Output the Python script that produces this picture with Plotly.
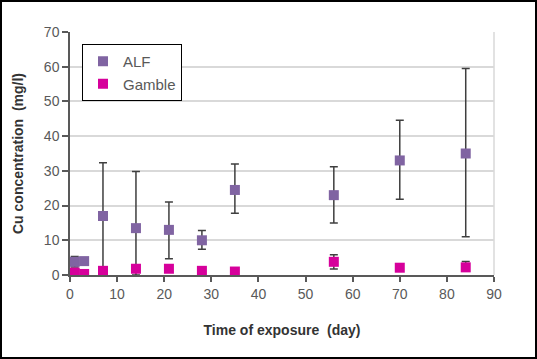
import plotly.graph_objects as go

days_alf = [1, 3, 7, 14, 21, 28, 35, 56, 70, 84]
alf = [3.8, 4.0, 17.0, 13.5, 13.0, 10.0, 24.5, 23.0, 33.0, 35.0]
alf_plus = [1.5, 0.5, 15.3, 16.3, 8.0, 2.8, 7.5, 8.2, 11.6, 24.5]
alf_minus = [1.5, 0.5, 17.0, 13.5, 8.3, 2.6, 6.7, 8.0, 11.2, 24.0]

days_gam = [1, 3, 7, 14, 21, 28, 35, 56, 70, 84]
gamble = [0.7, 0.3, 1.2, 1.8, 1.8, 1.2, 1.0, 3.8, 2.1, 2.2]
gam_plus = [0.2, 0.2, 0.2, 0.2, 0.2, 0.2, 0.2, 2.0, 0.2, 1.7]
gam_minus = [0.2, 0.2, 0.2, 0.2, 0.2, 0.2, 0.2, 2.1, 0.2, 0.2]

ALF_COLOR = "#8064A2"
GAM_COLOR = "#D6009B"
ERR_COLOR = "#3F3F3F"

fig = go.Figure()
fig.add_trace(go.Scatter(
    x=days_alf, y=alf, mode="markers", name="ALF",
    marker=dict(symbol="square", size=10, color=ALF_COLOR),
    error_y=dict(type="data", symmetric=False, array=alf_plus, arrayminus=alf_minus,
                 color=ERR_COLOR, thickness=1.5, width=4),
))
fig.add_trace(go.Scatter(
    x=days_gam, y=gamble, mode="markers", name="Gamble",
    marker=dict(symbol="square", size=10, color=GAM_COLOR),
    error_y=dict(type="data", symmetric=False, array=gam_plus, arrayminus=gam_minus,
                 color=ERR_COLOR, thickness=1.5, width=4),
))

L, R, T, B = 70, 43, 32, 84
W, H = 537, 359
pw, ph = W - L - R, H - T - B

fig.update_layout(
    width=W, height=H,
    margin=dict(l=L, r=R, t=T, b=B, pad=0),
    paper_bgcolor="white", plot_bgcolor="white",
    font=dict(family="Liberation Sans, Arial, sans-serif", size=13, color="#595959"),
    showlegend=True,
    legend=dict(x=(82 - L) / pw, y=1 - (44 - T) / ph, xanchor="left", yanchor="top",
                bordercolor="#000000", borderwidth=1, bgcolor="white",
                font=dict(size=15, color="#595959"),
                itemwidth=30),
    xaxis=dict(range=[0, 90], dtick=10, tick0=0, showgrid=False, zeroline=False,
               showline=True, linecolor="#595959", linewidth=1.5,
               ticks="outside", ticklen=5, tickcolor="#595959", tickwidth=1.5,
               tickfont=dict(size=14, color="#595959"),
               title=dict(text="<b>Time of exposure  (day)</b>", font=dict(size=14, color="#333333"), standoff=25)),
    yaxis=dict(range=[0, 70], dtick=10, tick0=0, showgrid=True, gridcolor="#D9D9D9", gridwidth=1.5,
               zeroline=False, showline=True, linecolor="#595959", linewidth=1.5,
               ticks="outside", ticklen=6, tickcolor="#595959", tickwidth=1.5,
               tickfont=dict(size=14, color="#595959"),
               title=dict(text="<b>Cu concentration  (mg/l)</b>", font=dict(size=14, color="#333333"), standoff=17)),
    shapes=[
        dict(type="line", xref="paper", yref="paper", x0=1, x1=1, y0=0, y1=1,
             line=dict(color="#D9D9D9", width=1.5)),
        dict(type="rect", xref="paper", yref="paper",
             x0=(1 - L) / pw, x1=(W - 1 - L) / pw,
             y0=-(B - 1) / ph, y1=1 + (T - 1) / ph,
             line=dict(color="#000000", width=2), layer="above"),
    ],
)

fig.write_html("out.html", config={"displayModeBar": False},
               post_script="document.body.style.margin='0';document.body.style.overflow='hidden';")
